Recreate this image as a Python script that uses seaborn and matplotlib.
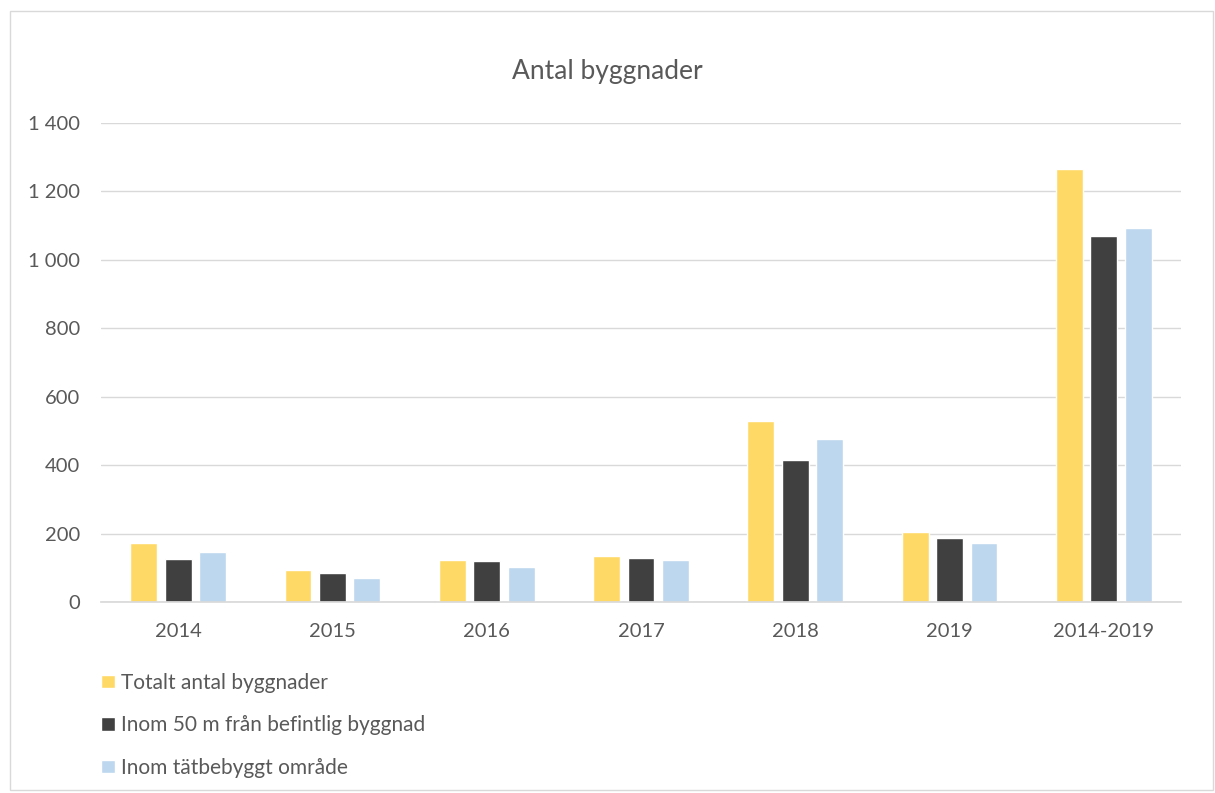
import matplotlib
matplotlib.use('Agg')
import matplotlib.pyplot as plt
import matplotlib.ticker as mticker
from matplotlib.patches import Rectangle
import seaborn as sns
import pandas as pd

# data
years = ['2014', '2015', '2016', '2017', '2018', '2019', '2014-2019']
series = ['Totalt antal byggnader', 'Inom 50 m från befintlig byggnad', 'Inom tätbebyggt område']
totalt = [171, 94, 122, 134, 530, 206, 1266]
inom_50m = [127, 84, 119, 130, 414, 188, 1071]
tatbebyggt = [145, 69, 101, 122, 476, 171, 1093]
colors = ['#FFD966', '#404040', '#BDD7EE']

df = pd.DataFrame({
    'Year': years * 3,
    'Serie': [series[0]] * 7 + [series[1]] * 7 + [series[2]] * 7,
    'Antal': totalt + inom_50m + tatbebyggt,
})

sns.set_theme(style='white')
plt.rcParams['font.family'] = ['Lato', 'DejaVu Sans']
text_col = '#595959'

fig = plt.figure(figsize=(12.15, 7.93), dpi=100)
ax = fig.add_axes([101 / 1215, 1 - 602 / 793, 1080 / 1215, 479 / 793])

sns.barplot(data=df, x='Year', y='Antal', hue='Serie', order=years, hue_order=series,
            palette=colors, width=0.67, gap=0.22, saturation=1, ax=ax)

ax.set_ylim(0, 1400)
ax.set_xlim(-0.5, 6.5)
ax.yaxis.set_major_locator(mticker.MultipleLocator(200))
ax.yaxis.set_major_formatter(mticker.FuncFormatter(lambda v, p: f'{int(v):,}'.replace(',', ' ')))
ax.grid(axis='y', color='#D9D9D9', linewidth=1)
ax.set_axisbelow(True)
for s in ['top', 'right', 'left']:
    ax.spines[s].set_visible(False)
ax.spines['bottom'].set_color('#D9D9D9')
ax.tick_params(axis='y', length=0, pad=15, labelsize=14.5, labelcolor=text_col)
ax.tick_params(axis='x', length=0, pad=15, labelsize=14.5, labelcolor=text_col)
ax.set_xlabel('')
ax.set_ylabel('')

fig.text(0.5, 1 - 71 / 793, 'Antal byggnader', ha='center', va='center', fontsize=19, color=text_col)

ax.legend(loc='upper left', bbox_to_anchor=(101 / 1215, 1 - 673 / 793), bbox_transform=fig.transFigure,
          frameon=False, fontsize=15, labelcolor=text_col, handlelength=0.65, handleheight=0.6,
          handletextpad=0.3, labelspacing=1.07, borderpad=0, borderaxespad=0)

# light frame around chart area
fig.patches.append(Rectangle((10 / 1215, 3 / 793), 1203 / 1215, 779 / 793, transform=fig.transFigure,
                             fill=False, edgecolor='#D9D9D9', linewidth=1))

fig.savefig('out.png', dpi=100, facecolor='white')
